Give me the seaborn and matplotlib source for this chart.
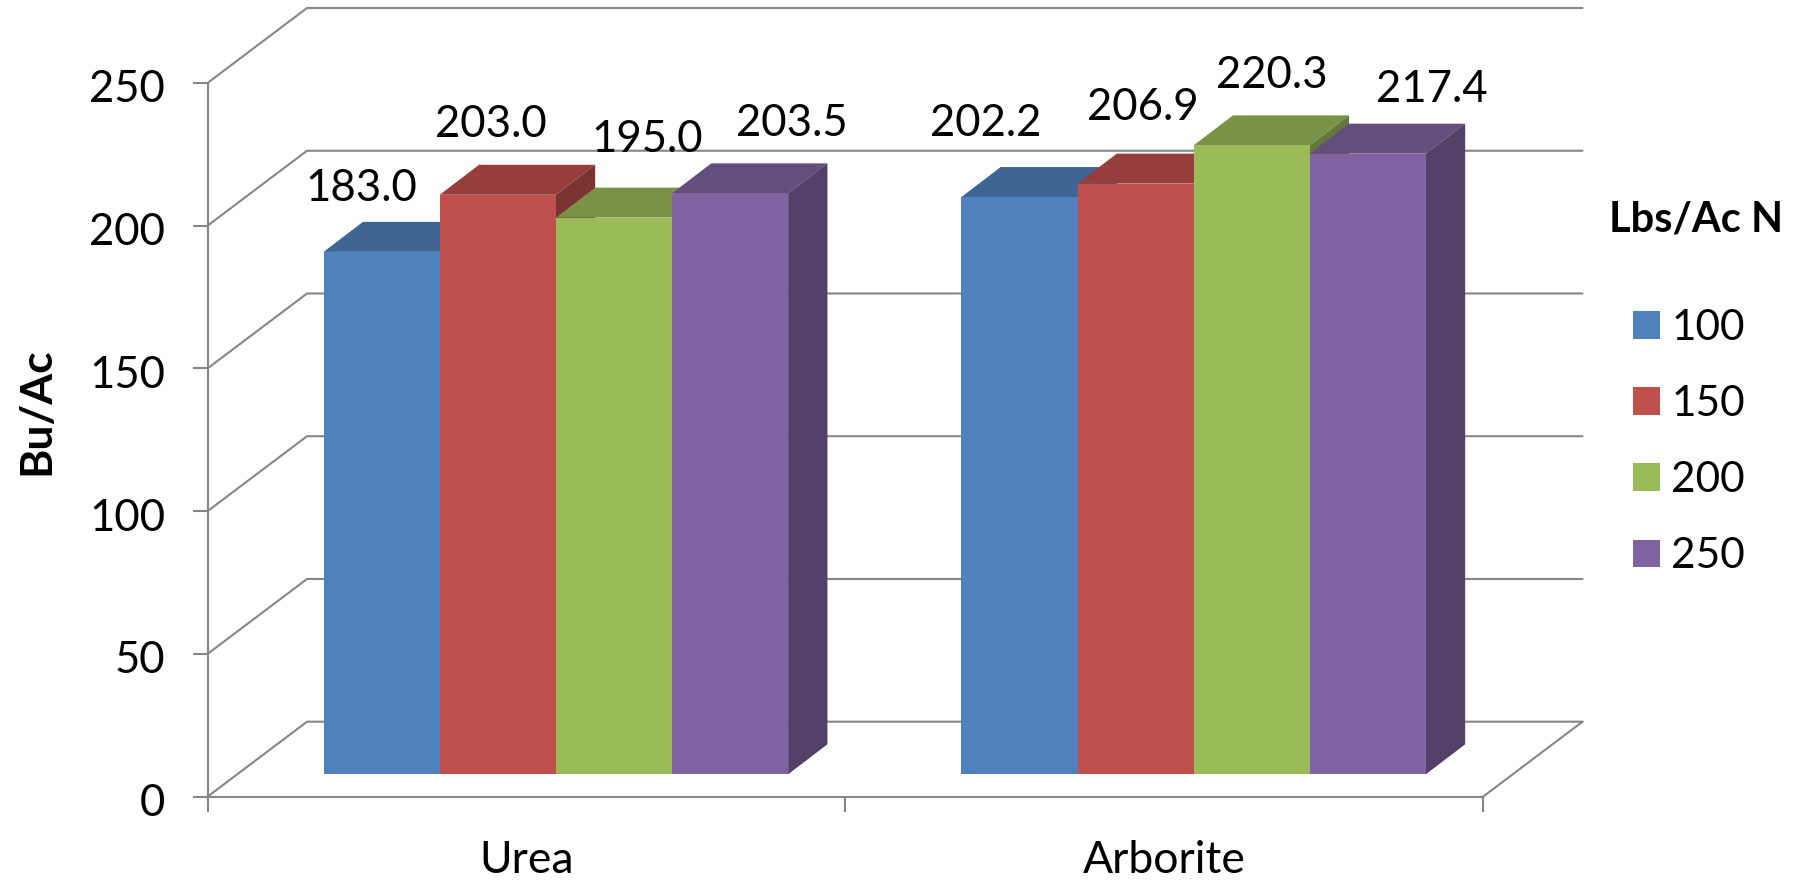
import matplotlib
matplotlib.use("Agg")
import matplotlib.pyplot as plt
from matplotlib.patches import Polygon
from matplotlib.transforms import Affine2D
import pandas as pd
import seaborn as sns

# ---- data ----
categories = ["Urea", "Arborite"]
rates = ["100", "150", "200", "250"]
urea_values = [183.0, 203.0, 195.0, 203.5]
arborite_values = [202.2, 206.9, 220.3, 217.4]
colors = ["#4F81BD", "#C0504D", "#9BBB59", "#8064A2"]
y_ticks = [0, 50, 100, 150, 200, 250]
# label offsets from each bar's top centre (pixels)
label_offsets = {
    (0, 0): (-20, 63), (0, 1): (-7, 70), (0, 2): (33, 78), (0, 3): (62, 70),
    (1, 0): (-34, 74), (1, 1): (7, 76), (1, 2): (20, 70), (1, 3): (64, 64),
}

df = pd.DataFrame({
    "Fertilizer": [c for c in categories for _ in rates],
    "Rate": rates * 2,
    "Yield": urea_values + arborite_values,
})

sns.set_theme(style="white")
plt.rcParams["font.family"] = ["Lato", "DejaVu Sans"]

W, H = 1802, 880
fig = plt.figure(figsize=(W / 100, H / 100), dpi=100, facecolor="white")
AX_L, AX_R, AX_B, AX_T = 207.5, 1483, 796.7, 83
ax = fig.add_axes([AX_L / W, (H - AX_B) / H, (AX_R - AX_L) / W, (AX_B - AX_T) / H])

sns.barplot(data=df, x="Fertilizer", y="Yield", hue="Rate", order=categories,
            hue_order=rates, palette=colors, width=0.7283, gap=0, dodge=True,
            saturation=1, errorbar=None, ax=ax, linewidth=0)

ax.set_xlim(-0.5, 1.5)
ax.set_ylim(0, 250)
ax.set_facecolor("none")

px_x = (AX_R - AX_L) / 2      # pixels per category
px_y = (AX_B - AX_T) / 250    # pixels per y unit
GRAY = "#868686"
LW = 1.5

# chart walls: gridlines on the back wall, diagonals on the side wall
wall_dx, wall_dy = 99.5 / px_x, 75 / px_y
for t in y_ticks:
    ax.plot([-0.5, -0.5 + wall_dx, 1.5 + wall_dx], [t, t + wall_dy, t + wall_dy],
            color=GRAY, lw=LW, clip_on=False, zorder=1, solid_joinstyle="miter")
ax.plot([1.5, 1.5 + wall_dx], [0, wall_dy], color=GRAY, lw=LW, clip_on=False, zorder=1)

# bars stand in front of the wall, with a top and a side face
shift = ax.transData + Affine2D().translate(29.5, 22.4)
depth_x, depth_y = 39.3 / px_x, 30 / px_y


def shade(c, f):
    r, g, b = matplotlib.colors.to_rgb(c)
    return (r * f, g * f, b * f)


bars = []
for r_idx, cont in enumerate(ax.containers):
    for c_idx, b in enumerate(cont):
        bars.append((c_idx, r_idx, b))
bars.sort(key=lambda it: (it[0], it[1]))

for order, (c_idx, r_idx, b) in enumerate(bars):
    x0, x1, h = b.get_x(), b.get_x() + b.get_width(), b.get_height()
    z = 3 + order * 0.1
    b.set_transform(shift)
    b.set_clip_on(False)
    b.set_zorder(z + 0.02)
    b.set_linewidth(0)
    col = colors[r_idx]
    ax.add_patch(Polygon([(x0, h), (x1, h), (x1 + depth_x, h + depth_y), (x0 + depth_x, h + depth_y)],
                         closed=True, fc=shade(col, 0.78), lw=0, transform=shift,
                         clip_on=False, zorder=z))
    ax.add_patch(Polygon([(x1, 0), (x1 + depth_x, depth_y), (x1 + depth_x, h + depth_y), (x1, h)],
                         closed=True, fc=shade(col, 0.64), lw=0, transform=shift,
                         clip_on=False, zorder=z + 0.01))
    ax.annotate(f"{h:.1f}", xy=((x0 + x1) / 2, h), xycoords=shift,
                xytext=label_offsets[(c_idx, r_idx)], textcoords="offset pixels",
                ha="center", va="center", fontsize=31.5, color="black",
                zorder=10, annotation_clip=False)

# axes
sns.despine(ax=ax, top=True, right=True)
for s in ("left", "bottom"):
    ax.spines[s].set_color(GRAY)
    ax.spines[s].set_linewidth(LW)
    ax.spines[s].set_zorder(2)
ax.set_yticks(y_ticks)
ax.set_xticks([-0.5, 0.5, 1.5])
ax.set_xticklabels([])
ax.set_xticks([0, 1], minor=True)
ax.set_xticklabels(categories, minor=True)
ax.tick_params(axis="y", which="major", left=True, length=10.5, width=LW, color=GRAY,
               labelsize=31.5, pad=20, labelcolor="black")
ax.tick_params(axis="x", which="major", bottom=True, length=11, width=LW, color=GRAY)
ax.tick_params(axis="x", which="minor", bottom=False, length=0, labelsize=32, pad=31.5,
               labelcolor="black")
for lab in ax.get_yticklabels():
    lab.set_transform(lab.get_transform() + Affine2D().translate(0, -3))
ax.set_xlabel("")
ax.set_ylabel("")
fig.text(36 / W, 1 - 411 / H, "Bu/Ac", rotation=90, ha="center", va="center",
         fontsize=32, fontweight="bold", color="black")

# legend
handles, labels = ax.get_legend_handles_labels()
ax.get_legend().remove()
fig.text(1696.5 / W, 1 - 219 / H, "Lbs/Ac N", ha="center", va="center",
         fontsize=30, fontweight="bold", color="black")
leg = fig.legend(handles, labels, loc="upper left",
                 bbox_to_anchor=(1633 / W, 1 - 309 / H), frameon=False, fontsize=30.5,
                 handlelength=0.637, handleheight=0.637, handletextpad=0.27,
                 labelspacing=0.90, borderpad=0, borderaxespad=0)
for t in leg.get_texts():
    t.set_color("black")

fig.savefig("out.png", dpi=100, facecolor="white")
